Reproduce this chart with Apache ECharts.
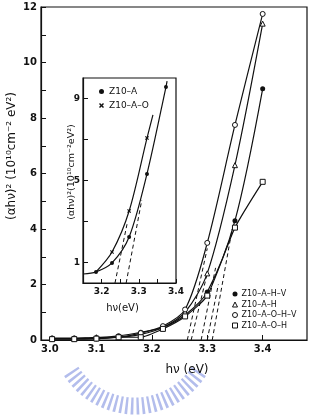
<!DOCTYPE html>
<html>
<head>
<meta charset="utf-8">
<script src="https://cdn.jsdelivr.net/npm/echarts@6/dist/echarts.min.js"></script>
<style>
html, body { margin: 0; padding: 0; background: #fff; }
#chart { width: 309px; height: 419px; }
</style>
</head>
<body>
<div id="chart"></div>
<script>
// main plot: photon energy and (alpha h nu)^2 for the four samples
var hv = [3.02, 3.06, 3.10, 3.14, 3.18, 3.22, 3.26, 3.30, 3.35, 3.40];
var ahv_AHV = [0.07, 0.07, 0.08, 0.15, 0.28, 0.45, 0.9, 1.73, 4.3, 9.05];
var ahv_AH = [0.05, 0.05, 0.1, 0.1, 0.2, 0.45, 1.0, 2.4, 6.3, 11.4];
var ahv_AOHV = [0.05, 0.05, 0.05, 0.1, 0.25, 0.5, 1.1, 3.5, 7.75, 11.75];
var ahv_AOH = [0.03, 0.03, 0.05, 0.1, 0.1, 0.4, 0.85, 1.6, 4.05, 5.7];

// dashed extrapolation lines (start on the axis, end on the curve)
var tanX0 = [3.264, 3.271, 3.289, 3.300, 3.309];
var tanX1 = [3.300, 3.300, 3.315, 3.320, 3.345];
var tanY1 = [3.3, 2.4, 2.6, 2.0, 4.0];

// inset
var inHvA = [3.15, 3.185, 3.228, 3.274, 3.322, 3.373, 3.376];
var inA = [0.44, 0.54, 0.98, 2.24, 5.32, 9.56, 9.85];
var inHvAO = [3.185, 3.228, 3.274, 3.322, 3.338];
var inAO = [0.54, 1.51, 3.51, 7.07, 8.2];
var inTanX0 = [3.236, 3.266];
var inTanX1 = [3.269, 3.308];
var inTanY1 = [2.93, 4.05];

var names = ['Z10–A–H–V', 'Z10–A–H', 'Z10–A–O–H–V', 'Z10–A–O–H'];
var insetNames = ['Z10–A', 'Z10–A–O'];

var mainTicksY = [0, 1, 2, 3, 4, 5, 6, 7, 8, 9, 10, 11, 12];
var mainLabelsY = [0, 2, 4, 6, 8, 10, 12];
var mainTicksX = [3.0, 3.1, 3.2, 3.3, 3.4];
var insetLabelsX = [3.2, 3.3, 3.4];
var insetTicksX = [3.15, 3.2, 3.25, 3.3, 3.35, 3.4];
var insetLabelsY = [1, 5, 9];
var insetTicksY = [1, 3, 5, 7, 9];

var FONT = 'DejaVu Sans';
var crossPath = 'path://M2,0L5,3L8,0L10,2L7,5L10,8L8,10L5,7L2,10L0,8L3,5L0,2Z';

function zip(xs, ys) {
    var l = [];
    for (var i = 0; i < xs.length; i++) {
        l.push([xs[i], ys[i]]);
    }
    return l;
}

var black = '#111';
var hollow = { color: '#fff', borderColor: black, borderWidth: 1 };

function mainSeries(name, ys, symbol, style) {
    return {
        name: name,
        type: 'line',
        xAxisIndex: 0,
        yAxisIndex: 0,
        data: zip(hv, ys),
        smooth: 0.3,
        symbol: symbol,
        symbolSize: 5,
        lineStyle: { color: black, width: 1.2 },
        itemStyle: style,
        z: 3
    };
}

var series = [
    mainSeries(names[0], ahv_AHV, 'circle', { color: black }),
    mainSeries(names[1], ahv_AH, 'triangle', hollow),
    mainSeries(names[2], ahv_AOHV, 'circle', hollow),
    mainSeries(names[3], ahv_AOH, 'rect', hollow)
];
series[3].smooth = 0.2;

for (var i = 0; i < tanX0.length; i++) {
    series.push({
        type: 'line',
        xAxisIndex: 0,
        yAxisIndex: 0,
        data: [[tanX0[i], 0], [tanX1[i], tanY1[i]]],
        symbol: 'none',
        lineStyle: { color: black, width: 1, type: [4, 3] },
        silent: true
    });
}

// inset curves
var inAData = zip(inHvA, inA);
inAData[0] = { value: inAData[0], symbol: 'none' };
inAData[inAData.length - 1] = { value: inAData[inAData.length - 1], symbol: 'none' };
var inAOData = zip(inHvAO, inAO);
inAOData[0] = { value: inAOData[0], symbol: 'none' };
inAOData[inAOData.length - 1] = { value: inAOData[inAOData.length - 1], symbol: 'none' };

series.push({
    name: insetNames[0],
    type: 'line',
    xAxisIndex: 1,
    yAxisIndex: 1,
    data: inAData,
    smooth: 0.3,
    symbol: 'circle',
    symbolSize: 4,
    lineStyle: { color: black, width: 1.2 },
    itemStyle: { color: black },
    z: 5
});
series.push({
    name: insetNames[1],
    type: 'line',
    xAxisIndex: 1,
    yAxisIndex: 1,
    data: inAOData,
    smooth: 0.3,
    symbol: crossPath,
    symbolSize: 4,
    lineStyle: { color: black, width: 1.2 },
    itemStyle: { color: black },
    z: 5
});
for (var i = 0; i < inTanX0.length; i++) {
    series.push({
        type: 'line',
        xAxisIndex: 1,
        yAxisIndex: 1,
        data: [[inTanX0[i], 0], [inTanX1[i], inTanY1[i]]],
        symbol: 'none',
        lineStyle: { color: black, width: 1, type: [4, 3] },
        silent: true,
        z: 5
    });
}

var axisText = { color: black, fontFamily: FONT, fontSize: 10, fontWeight: 'bold' };

var option = {
    backgroundColor: '#fff',
    animation: false,
    grid: [
        { left: 41, top: 7, right: 2, bottom: 79, show: true, borderColor: black, borderWidth: 1.2, backgroundColor: 'transparent' },
        { left: 83, top: 78, right: 133, bottom: 136, show: true, borderColor: black, borderWidth: 1.2, backgroundColor: '#fff', z: 4 }
    ],
    xAxis: [
        {
            gridIndex: 0, type: 'value', min: 3.0, max: 3.48,
            name: 'hν (eV)', nameLocation: 'middle', nameGap: 24,
            nameTextStyle: { color: black, fontFamily: FONT, fontSize: 12, padding: [0, 0, 0, 26] },
            axisLine: { lineStyle: { color: black, width: 1.2 } },
            axisTick: { inside: true, length: 5, customValues: mainTicksX, lineStyle: { color: black } },
            axisLabel: Object.assign({ margin: 4, customValues: mainTicksX, alignMinLabel: 'left', formatter: function (v) { return v.toFixed(1); } }, axisText),
            splitLine: { show: false }
        },
        {
            gridIndex: 1, type: 'value', min: 3.15, max: 3.4,
            name: 'hν(eV)', nameLocation: 'middle', nameGap: 20,
            nameTextStyle: { color: black, fontFamily: FONT, fontSize: 10, padding: [0, 14, 0, 0] },
            axisLine: { lineStyle: { color: black, width: 1.2 } },
            axisTick: { inside: true, length: 4, customValues: insetTicksX, lineStyle: { color: black } },
            axisLabel: Object.assign({ margin: 4, customValues: insetLabelsX, formatter: function (v) { return v.toFixed(1); } }, axisText, { fontSize: 9 }),
            splitLine: { show: false },
            z: 5
        }
    ],
    yAxis: [
        {
            gridIndex: 0, type: 'value', min: 0, max: 12,
            axisLine: { lineStyle: { color: black, width: 1.2 } },
            axisTick: { inside: true, length: 5, customValues: mainTicksY, lineStyle: { color: black } },
            axisLabel: Object.assign({ margin: 4, customValues: mainLabelsY }, axisText),
            splitLine: { show: false }
        },
        {
            gridIndex: 1, type: 'value', min: 0, max: 10,
            axisLine: { lineStyle: { color: black, width: 1.2 } },
            axisTick: { inside: true, length: 5, customValues: insetTicksY, lineStyle: { color: black } },
            axisLabel: Object.assign({ margin: 3, customValues: insetLabelsY }, axisText, { fontSize: 9 }),
            splitLine: { show: false },
            z: 5
        }
    ],
    legend: [
        {
            orient: 'vertical', left: 227, top: 284,
            itemWidth: 5, itemHeight: 5, itemGap: 0.5,
            textStyle: { color: black, fontFamily: FONT, fontSize: 8, lineHeight: 10, padding: [0, 0, 0, -1] },
            data: [
                { name: names[0], icon: 'circle', itemStyle: { color: black } },
                { name: names[1], icon: 'triangle', itemStyle: hollow },
                { name: names[2], icon: 'circle', itemStyle: hollow },
                { name: names[3], icon: 'rect', itemStyle: hollow }
            ]
        },
        {
            orient: 'vertical', left: 94, top: 81,
            itemWidth: 5, itemHeight: 5, itemGap: 3,
            textStyle: { color: black, fontFamily: FONT, fontSize: 9, lineHeight: 11 },
            data: [
                { name: insetNames[0], icon: 'circle', itemStyle: { color: black } },
                { name: insetNames[1], icon: crossPath, itemStyle: { color: black } }
            ],
            z: 6
        }
    ],
    graphic: [
        {
            type: 'text', x: 12, y: 156, rotation: Math.PI / 2,
            style: { text: '(αhν)² (10¹⁰cm⁻² eV²)', fill: black, font: '12px "DejaVu Sans"', align: 'center', verticalAlign: 'middle' }
        },
        {
            type: 'text', x: 72, y: 172, rotation: Math.PI / 2, z: 10,
            style: { text: '(αhν)²(10¹⁰cm⁻²eV²)', fill: black, font: '9.5px "DejaVu Sans"', align: 'center', verticalAlign: 'middle' }
        },
        {
            type: 'arc', silent: true, z: -1,
            shape: { cx: 135, cy: 330, r: 76, startAngle: 33 * Math.PI / 180, endAngle: 147 * Math.PI / 180, clockwise: true },
            style: { stroke: '#b3bdec', lineWidth: 17, lineDash: [2.5, 3], fill: null }
        }
    ],
    series: series
};

var myChart = echarts.init(document.getElementById('chart'));
myChart.setOption(option);
</script>
</body>
</html>
